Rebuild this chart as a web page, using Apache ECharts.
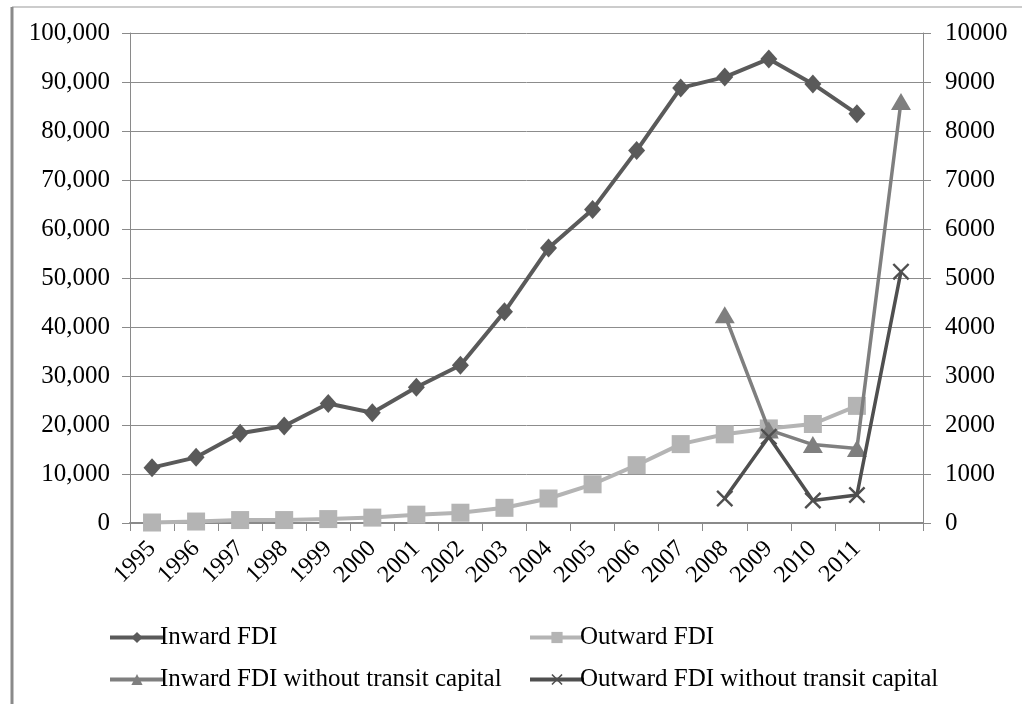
<!DOCTYPE html>
<html>
<head>
<meta charset="utf-8">
<script src="https://cdn.jsdelivr.net/npm/echarts@6/dist/echarts.min.js"></script>
<style>
html,body{margin:0;padding:0;background:#fff;}
#chart{width:1022px;height:704px;}
</style>
</head>
<body>
<div id="chart"></div>
<script>
// ---- data ----
var years = ['1995','1996','1997','1998','1999','2000','2001','2002','2003','2004','2005','2006','2007','2008','2009','2010','2011',''];
var inwardFDI = [11300, 13400, 18300, 19800, 24400, 22500, 27700, 32200, 43100, 56100, 64000, 76000, 88800, 91000, 94700, 89600, 83500, null];
var outwardFDI = [100, 300, 600, 600, 800, 1100, 1700, 2100, 3100, 5000, 7900, 11800, 16100, 18100, 19300, 20200, 23900, null];
var inwardNoTransit = [null, null, null, null, null, null, null, null, null, null, null, null, null, 4250, 1900, 1600, 1520, 8600];
var outwardNoTransit = [null, null, null, null, null, null, null, null, null, null, null, null, null, 500, 1760, 460, 570, 5130];
var leftTicks = {min: 0, max: 100000, interval: 10000};
var rightTicks = {min: 0, max: 10000, interval: 1000};
var seriesNames = ['Inward FDI', 'Outward FDI', 'Inward FDI without transit capital', 'Outward FDI without transit capital'];

var FONT = 'Liberation Serif';
var xPath = 'path://M0,1 L1,0 L5,4 L9,0 L10,1 L6,5 L10,9 L9,10 L5,6 L1,10 L0,9 L4,5 Z';

var chart = echarts.init(document.getElementById('chart'), null, {renderer: 'canvas'});
function legendItem(name) {
  return {name: name, lineStyle: {width: 4}};
}
var legendCommon = {
  orient: 'vertical', top: 620,
  itemWidth: 54, itemHeight: 14, itemGap: 17,
  lineStyle: {width: 4},
  textStyle: {fontFamily: FONT, fontSize: 25, color: '#000', padding: [0, 0, 0, -9]}
};
var option = {
  backgroundColor: '#ffffff',
  animation: false,
  textStyle: {fontFamily: FONT, color: '#000'},
  graphic: [
    {type: 'line', shape: {x1: 12, y1: 7, x2: 1022, y2: 7}, style: {stroke: '#9a9a9a', lineWidth: 1.2}},
    {type: 'line', shape: {x1: 12, y1: 7, x2: 12, y2: 704}, style: {stroke: '#8a8a8a', lineWidth: 3}}
  ],
  grid: {left: 130, right: 99, top: 33, bottom: 181, containLabel: false},
  legend: [
    Object.assign({data: [legendItem(seriesNames[0]), legendItem(seriesNames[2])], left: 103}, legendCommon),
    Object.assign({data: [legendItem(seriesNames[1]), legendItem(seriesNames[3])], left: 523}, legendCommon)
  ],
  xAxis: {
    type: 'category',
    data: years,
    boundaryGap: true,
    axisLine: {lineStyle: {color: '#8a8a8a', width: 2}},
    axisTick: {show: true, length: 8, lineStyle: {color: '#8a8a8a', width: 1}},
    axisLabel: {interval: 0, rotate: 45, margin: 22, fontFamily: FONT, fontSize: 24, color: '#000'},
    splitLine: {show: false}
  },
  yAxis: [
    {
      type: 'value', min: leftTicks.min, max: leftTicks.max, interval: leftTicks.interval,
      axisLine: {show: true, lineStyle: {color: '#8a8a8a', width: 1}},
      axisTick: {show: true, length: 8, lineStyle: {color: '#8a8a8a'}},
      axisLabel: {margin: 20, fontFamily: FONT, fontSize: 25, color: '#000',
        formatter: function (v) { return v.toLocaleString('en-US'); }},
      splitLine: {show: true, lineStyle: {color: '#8c8c8c', width: 1}}
    },
    {
      type: 'value', min: rightTicks.min, max: rightTicks.max, interval: rightTicks.interval,
      position: 'right',
      axisLine: {show: true, lineStyle: {color: '#8a8a8a', width: 1}},
      axisTick: {show: true, length: 8, lineStyle: {color: '#8a8a8a'}},
      axisLabel: {margin: 22, fontFamily: FONT, fontSize: 25, color: '#000', formatter: function (v) { return String(v); }},
      splitLine: {show: false}
    }
  ],
  series: [
    {
      name: seriesNames[0], type: 'line', yAxisIndex: 0, data: inwardFDI,
      symbol: 'diamond', symbolSize: [17, 19],
      lineStyle: {color: '#5a5a5a', width: 4},
      itemStyle: {color: '#5a5a5a'}, z: 2
    },
    {
      name: seriesNames[1], type: 'line', yAxisIndex: 0, data: outwardFDI,
      symbol: 'rect', symbolSize: 18,
      lineStyle: {color: '#b4b4b4', width: 4},
      itemStyle: {color: '#b4b4b4'}, z: 3
    },
    {
      name: seriesNames[2], type: 'line', yAxisIndex: 1, data: inwardNoTransit,
      symbol: 'triangle', symbolSize: [20, 17],
      lineStyle: {color: '#7f7f7f', width: 3.5},
      itemStyle: {color: '#7f7f7f'}, z: 4
    },
    {
      name: seriesNames[3], type: 'line', yAxisIndex: 1, data: outwardNoTransit,
      symbol: xPath, symbolSize: 17,
      lineStyle: {color: '#4f4f4f', width: 3.5},
      itemStyle: {color: '#4f4f4f'}, z: 5
    }
  ]
};
chart.setOption(option);
</script>
</body>
</html>
